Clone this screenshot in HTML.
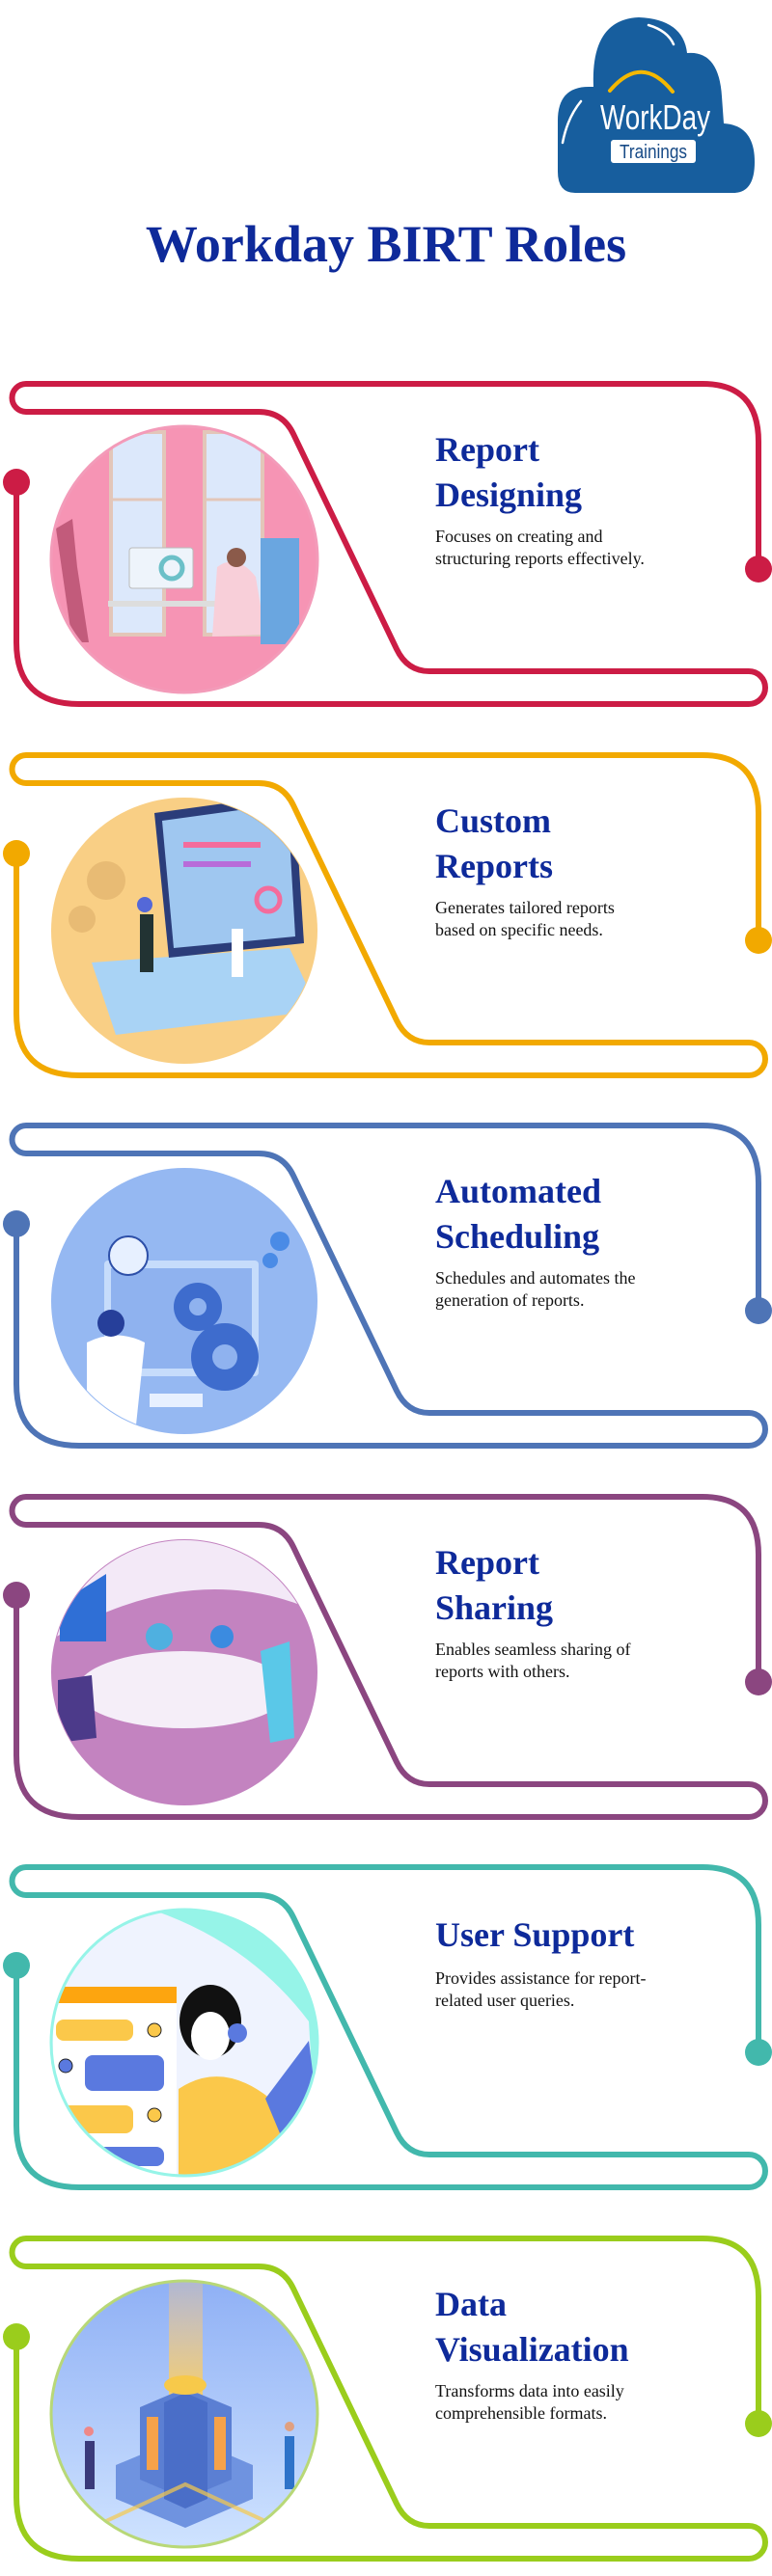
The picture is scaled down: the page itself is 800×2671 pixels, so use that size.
<!DOCTYPE html>
<html><head><meta charset="utf-8"><style>
html,body{margin:0;padding:0;background:#fff;}
body{width:800px;height:2671px;position:relative;overflow:hidden;}
svg{position:absolute;left:0;top:0;}
</style></head><body>
<svg width="800" height="2671" viewBox="0 0 800 2671" xmlns="http://www.w3.org/2000/svg">
<defs>
<clipPath id="cc"><circle cx="191" cy="182" r="137"/></clipPath>
<path id="track" d="M17,102 L17,268 Q17,332 82,332 L776,332 A17,17 0 0 0 776,298 L445,298 Q422,298 411,275 L304,52 Q293,29 268,29 L27,29 A14.5,14.5 0 0 1 27,0 L728,0 Q786,0 786,60 L786,192" fill="none" stroke-width="6" stroke-linecap="round" stroke-linejoin="round"/>
<linearGradient id="g6" x1="0" y1="0" x2="0" y2="1"><stop offset="0" stop-color="#8fb0f5"/><stop offset="1" stop-color="#cfe3ff"/></linearGradient>
<linearGradient id="beam" x1="0" y1="0" x2="0" y2="1"><stop offset="0" stop-color="#f6c58a" stop-opacity="0.3"/><stop offset="1" stop-color="#ffd050"/></linearGradient>
</defs>

<!-- Logo -->
<g>
<path d="M596,200 Q578,200 578,178 L578,125 Q578,90 610,90 L615,90 Q612,20 662,18 Q708,20 712,55 Q745,52 748,100 L750,128 Q782,130 782,168 Q782,200 760,200 Z" fill="#175e9e"/>
<path d="M632,94 Q665,55 697,95" fill="none" stroke="#f4b800" stroke-width="4" stroke-linecap="round"/>
<path d="M672,26 Q692,32 698,46" fill="none" stroke="#fff" stroke-width="2.5" stroke-linecap="round"/>
<path d="M602,105 Q588,122 583,148" fill="none" stroke="#fff" stroke-width="2.5" stroke-linecap="round"/>
<text x="622" y="134" font-family="Liberation Sans, sans-serif" font-size="36" fill="#fff" textLength="114" lengthAdjust="spacingAndGlyphs">WorkDay</text>
<rect x="633" y="145" width="88" height="24" rx="3" fill="#fff"/>
<text x="642" y="164" font-family="Liberation Sans, sans-serif" font-size="20" fill="#174a86" textLength="70" lengthAdjust="spacingAndGlyphs">Trainings</text>
</g>

<text x="400" y="271" text-anchor="middle" font-family="Liberation Serif, serif" font-weight="bold" font-size="54" fill="#0e2a9a">Workday BIRT Roles</text>

<!-- Section 1 -->
<g transform="translate(0,398)">
<use href="#track" stroke="#cc1c45"/>
<circle cx="17" cy="102" r="14" fill="#cc1c45"/><circle cx="786" cy="192" r="14" fill="#cc1c45"/>
<circle cx="191" cy="182" r="139" fill="#f694b4"/>
<g clip-path="url(#cc)">
<rect x="50" y="40" width="280" height="280" fill="#f694b4"/>
<rect x="115" y="50" width="55" height="210" fill="#dce8fb" stroke="#e3c6b9" stroke-width="4"/>
<rect x="212" y="50" width="60" height="210" fill="#dce8fb" stroke="#e3c6b9" stroke-width="4"/>
<line x1="115" y1="120" x2="170" y2="120" stroke="#e3c6b9" stroke-width="3"/><line x1="212" y1="120" x2="272" y2="120" stroke="#e3c6b9" stroke-width="3"/>
<rect x="112" y="225" width="125" height="6" fill="#ddd"/>
<rect x="134" y="170" width="66" height="42" rx="3" fill="#eef4fb" stroke="#bbb"/>
<circle cx="178" cy="191" r="11" fill="none" stroke="#6bc0c8" stroke-width="5"/>
<path d="M58,150 L75,140 L80,190 L92,268 L75,268 Z" fill="#c25b7b"/>
<path d="M225,190 Q245,175 265,200 L275,260 L220,262 Z" fill="#f8cfd9"/>
<circle cx="245" cy="180" r="10" fill="#8b5a4a"/>
<rect x="270" y="160" width="40" height="110" fill="#6aa6e0"/>
</g>
<circle cx="191" cy="182" r="138" fill="none" stroke="#f39bb9" stroke-width="3"/>
<text font-family="Liberation Serif, serif" font-weight="bold" font-size="36" fill="#0e2a9a"><tspan x="451" y="80">Report</tspan><tspan x="451" y="127">Designing</tspan></text>
<text font-family="Liberation Serif, serif" font-size="18" fill="#111"><tspan x="451" y="164">Focuses on creating and</tspan><tspan x="451" y="187">structuring reports effectively.</tspan></text>
</g>

<!-- Section 2 -->
<g transform="translate(0,783)">
<use href="#track" stroke="#f2a900"/>
<circle cx="17" cy="102" r="14" fill="#f2a900"/><circle cx="786" cy="192" r="14" fill="#f2a900"/>
<circle cx="191" cy="182" r="138" fill="#f9cf85"/>
<g clip-path="url(#cc)">
<circle cx="110" cy="130" r="20" fill="#e8bb74"/><circle cx="85" cy="170" r="14" fill="#e8bb74"/>
<path d="M95,215 L300,200 L330,265 L120,290 Z" fill="#a9d3f5"/>
<path d="M160,60 L305,40 L315,195 L175,210 Z" fill="#2b3d7a"/>
<path d="M168,68 L298,50 L306,188 L180,200 Z" fill="#9fc7f0"/>
<rect x="190" y="90" width="80" height="6" fill="#f36c9c"/><rect x="190" y="110" width="70" height="6" fill="#b86cd9"/>
<circle cx="278" cy="150" r="12" fill="none" stroke="#f36c9c" stroke-width="5"/>
<rect x="145" y="165" width="14" height="60" fill="#233" /><circle cx="150" cy="155" r="8" fill="#5468d8"/>
<rect x="240" y="180" width="12" height="50" fill="#fff"/>
</g>
<text font-family="Liberation Serif, serif" font-weight="bold" font-size="36" fill="#0e2a9a"><tspan x="451" y="80">Custom</tspan><tspan x="451" y="127">Reports</tspan></text>
<text font-family="Liberation Serif, serif" font-size="18" fill="#111"><tspan x="451" y="164">Generates tailored reports</tspan><tspan x="451" y="187">based on specific needs.</tspan></text>
</g>

<!-- Section 3 -->
<g transform="translate(0,1167)">
<use href="#track" stroke="#4e74b6"/>
<circle cx="17" cy="102" r="14" fill="#4e74b6"/><circle cx="786" cy="192" r="14" fill="#4e74b6"/>
<circle cx="191" cy="182" r="138" fill="#95b8f2"/>
<g clip-path="url(#cc)">
<rect x="108" y="140" width="160" height="120" rx="4" fill="#c6dcfb"/>
<rect x="115" y="148" width="146" height="104" fill="#8fb2ef"/>
<circle cx="133" cy="135" r="20" fill="#e7f0ff" stroke="#2d4fa8" stroke-width="2"/>
<circle cx="205" cy="188" r="25" fill="#3e6ccd"/><circle cx="205" cy="188" r="9" fill="#8fb2ef"/>
<circle cx="233" cy="240" r="35" fill="#3e6ccd"/><circle cx="233" cy="240" r="13" fill="#8fb2ef"/>
<circle cx="290" cy="120" r="10" fill="#4a8be6"/><circle cx="280" cy="140" r="8" fill="#4a8be6"/>
<path d="M90,225 Q120,210 150,225 L140,320 L90,320 Z" fill="#fff"/>
<circle cx="115" cy="205" r="14" fill="#263f9a"/>
<rect x="155" y="278" width="55" height="14" fill="#e7f0ff"/>
</g>
<text font-family="Liberation Serif, serif" font-weight="bold" font-size="36" fill="#0e2a9a"><tspan x="451" y="80">Automated</tspan><tspan x="451" y="127">Scheduling</tspan></text>
<text font-family="Liberation Serif, serif" font-size="18" fill="#111"><tspan x="451" y="164">Schedules and automates the</tspan><tspan x="451" y="187">generation of reports.</tspan></text>
</g>

<!-- Section 4 -->
<g transform="translate(0,1552)">
<use href="#track" stroke="#8b4680"/>
<circle cx="17" cy="102" r="14" fill="#8b4680"/><circle cx="786" cy="192" r="14" fill="#8b4680"/>
<circle cx="191" cy="182" r="138" fill="#c383c0"/>
<g clip-path="url(#cc)">
<path d="M50,40 L330,40 L330,120 Q200,60 50,150 Z" fill="#f3e9f7"/>
<ellipse cx="190" cy="200" rx="110" ry="40" fill="#f5eef8"/>
<path d="M62,110 L110,80 L110,150 L62,150 Z" fill="#2f6fd6"/>
<circle cx="165" cy="145" r="14" fill="#4fb0e0"/>
<circle cx="230" cy="145" r="12" fill="#3b8be0"/>
<path d="M270,160 L300,150 L305,250 L280,255 Z" fill="#5ac8e8"/>
<path d="M60,190 L95,185 L100,250 L60,255 Z" fill="#4c3a8a"/>
</g>
<text font-family="Liberation Serif, serif" font-weight="bold" font-size="36" fill="#0e2a9a"><tspan x="451" y="80">Report</tspan><tspan x="451" y="127">Sharing</tspan></text>
<text font-family="Liberation Serif, serif" font-size="18" fill="#111"><tspan x="451" y="164">Enables seamless sharing of</tspan><tspan x="451" y="187">reports with others.</tspan></text>
</g>

<!-- Section 5 -->
<g transform="translate(0,1936)">
<use href="#track" stroke="#42b8ac"/>
<circle cx="17" cy="102" r="14" fill="#42b8ac"/><circle cx="786" cy="192" r="14" fill="#42b8ac"/>
<circle cx="191" cy="182" r="139" fill="#96f4e8"/>
<g clip-path="url(#cc)">
<path d="M50,45 L160,45 Q260,80 320,160 L330,330 L50,330 Z" fill="#eff3fe"/>
<rect x="55" y="124" width="128" height="200" rx="4" fill="#fff"/>
<rect x="55" y="124" width="128" height="17" fill="#fda50f"/>
<rect x="58" y="158" width="80" height="22" rx="8" fill="#fbc84a"/>
<rect x="88" y="195" width="82" height="37" rx="8" fill="#5a79df"/>
<rect x="58" y="247" width="80" height="29" rx="8" fill="#fbc84a"/>
<rect x="92" y="290" width="78" height="20" rx="8" fill="#5a79df"/>
<circle cx="160" cy="169" r="7" fill="#fbc84a" stroke="#222" stroke-width="1"/>
<circle cx="160" cy="257" r="7" fill="#fbc84a" stroke="#222" stroke-width="1"/>
<circle cx="68" cy="206" r="7" fill="#5a79df" stroke="#222" stroke-width="1"/>
<path d="M185,230 Q230,200 280,240 L310,330 L185,330 Z" fill="#fbc84a"/>
<ellipse cx="218" cy="160" rx="32" ry="38" fill="#111"/>
<ellipse cx="218" cy="175" rx="20" ry="25" fill="#fff"/>
<circle cx="246" cy="172" r="10" fill="#5a79df"/>
<path d="M275,240 L320,180 L330,260 L300,300 Z" fill="#5a79df"/>
</g>
<circle cx="191" cy="182" r="138" fill="none" stroke="#96f4e8" stroke-width="3"/>
<text font-family="Liberation Serif, serif" font-weight="bold" font-size="36" fill="#0e2a9a"><tspan x="451" y="82">User Support</tspan></text>
<text font-family="Liberation Serif, serif" font-size="18" fill="#111"><tspan x="451" y="121">Provides assistance for report-</tspan><tspan x="451" y="144">related user queries.</tspan></text>
</g>

<!-- Section 6 -->
<g transform="translate(0,2321)">
<use href="#track" stroke="#9acd1c"/>
<circle cx="17" cy="102" r="14" fill="#9acd1c"/><circle cx="786" cy="192" r="14" fill="#9acd1c"/>
<circle cx="191" cy="182" r="139" fill="url(#g6)"/>
<g clip-path="url(#cc)">
<rect x="175" y="40" width="35" height="150" fill="url(#beam)"/>
<path d="M120,235 L192,205 L262,235 L262,270 L192,300 L120,270 Z" fill="#6f93e0"/>
<path d="M145,175 L192,155 L240,175 L240,250 L192,270 L145,250 Z" fill="#5b7fd3"/>
<path d="M170,170 L192,160 L215,170 L215,270 L192,280 L170,270 Z" fill="#4a6ec8"/>
<rect x="152" y="185" width="12" height="55" fill="#f6a24a"/><rect x="222" y="185" width="12" height="55" fill="#f6a24a"/>
<ellipse cx="192" cy="152" rx="22" ry="10" fill="#f7c94a"/>
<path d="M95,300 L192,255 L290,300" fill="none" stroke="#f7c94a" stroke-width="4" opacity="0.7"/>
<rect x="88" y="210" width="10" height="50" fill="#3a3a7a"/><circle cx="92" cy="200" r="5" fill="#e88"/>
<rect x="295" y="205" width="10" height="55" fill="#2e73c9"/><circle cx="300" cy="195" r="5" fill="#e0a080"/>
</g>
<circle cx="191" cy="182" r="138" fill="none" stroke="#b8d877" stroke-width="3"/>
<text font-family="Liberation Serif, serif" font-weight="bold" font-size="36" fill="#0e2a9a"><tspan x="451" y="80">Data</tspan><tspan x="451" y="127">Visualization</tspan></text>
<text font-family="Liberation Serif, serif" font-size="18" fill="#111"><tspan x="451" y="164">Transforms data into easily</tspan><tspan x="451" y="187">comprehensible formats.</tspan></text>
</g>
</svg>
</body></html>
